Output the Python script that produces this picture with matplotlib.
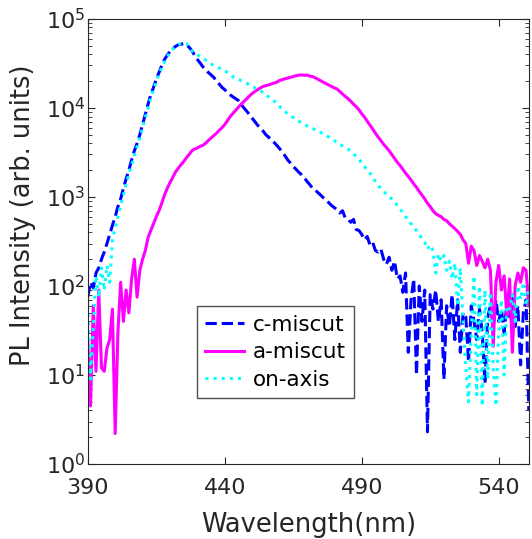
import numpy as np
import matplotlib
matplotlib.use("Agg")
import matplotlib.pyplot as plt

# wavelength grid (nm), 1 nm steps
wavelength = np.arange(390, 552)

c_miscut = [
    75, 110, 95, 140, 160, 200, 240, 300, 380, 480,
    600, 780, 950, 1250, 1600, 2000, 2600, 3300, 4000, 5000,
    6500, 8500, 11000, 14000, 17000, 21000, 25000, 30000, 35000, 39000,
    43000, 46000, 49000, 51000, 52000, 52500, 51000, 48000, 44000, 39000,
    35000, 32000, 29000, 27000, 25000, 23500, 22000, 20000, 18500, 17000,
    16000, 15000, 14000, 13300, 12700, 12100, 11000, 10000, 9200, 8400,
    7700, 7000, 6400, 5900, 5500, 5000, 4700, 4400, 4100, 3800,
    3500, 3200, 2900, 2600, 2400, 2200, 2050, 1900, 1780, 1650,
    1500, 1380, 1260, 1200, 1120, 1050, 980, 930, 860, 800,
    760, 720, 660, 700, 580, 560, 520, 560, 430, 420,
    380, 330, 360, 290, 310, 250, 240, 260, 200, 175,
    210, 150, 190, 120, 130, 85, 140, 18, 70, 120,
    10, 100, 40, 90, 2.3, 80, 55, 90, 40, 70,
    9, 60, 35, 80, 25, 70, 18, 50, 45, 14,
    60, 40, 25, 55, 30, 8, 45, 60, 35, 70,
    40, 55, 30, 65, 45, 80, 35, 60, 13, 50,
    70, 4,
]

a_miscut = [
    25, 4.5, 60, 11, 90, 12, 11, 20, 25, 55,
    2.2, 30, 110, 40, 90, 50, 120, 200, 75, 150,
    200, 250, 350, 420, 500, 600, 700, 850, 1050, 1250,
    1450, 1650, 1900, 2100, 2300, 2500, 2750, 3000, 3300, 3450,
    3550, 3700, 3800, 4000, 4300, 4600, 4900, 5200, 5600, 6000,
    6500, 7200, 8000, 8700, 9400, 10200, 11000, 11800, 12700, 13600,
    14500, 15300, 16000, 16800, 17400, 17800, 18100, 18600, 19000, 19500,
    20300, 20800, 21200, 21600, 22000, 22500, 23000, 23300, 23500, 23200,
    23400, 22800, 22500, 21800, 21000, 20200, 19400, 18700, 18000, 17400,
    16800, 16300, 15300, 14300, 13500, 12700, 11900, 11000, 10300, 9500,
    8600, 7900, 7100, 6400, 5800, 5200, 4700, 4300, 3900, 3600,
    3300, 3000, 2700, 2450, 2250, 2050, 1850, 1700, 1550, 1400,
    1280, 1150, 1050, 950, 850, 780, 700, 650, 620, 600,
    560, 540, 500, 470, 440, 410, 380, 330, 300, 180,
    280, 250, 170, 220, 190, 160, 200, 150, 21, 110,
    170, 90, 130, 45, 120, 18, 100, 140, 110, 160,
    150, 60,
]

on_axis = [
    60, 9, 35, 130, 75, 160, 90, 170, 110, 330,
    450, 600, 800, 1050, 1400, 1800, 2300, 2900, 3700, 4700,
    6000, 7800, 10000, 13000, 16000, 20000, 24000, 28500, 33000, 37500,
    42000, 45500, 48500, 51000, 53000, 53500, 53000, 48000, 44000, 41500,
    39500, 37800, 36300, 34500, 32800, 31200, 30000, 29000, 28000, 27200,
    26300, 25000, 23700, 22400, 21700, 21000, 20200, 19500, 18900, 18100,
    17400, 16800, 16200, 15600, 14800, 14000, 13400, 12800, 12000, 11200,
    10400, 9700, 9100, 8600, 8200, 7800, 7400, 7100, 6800, 6500,
    6300, 6100, 5900, 5700, 5500, 5300, 5100, 4900, 4700, 4500,
    4300, 4100, 3900, 3750, 3600, 3450, 3250, 3050, 2850, 2650,
    2400, 2200, 2000, 1850, 1650, 1500, 1350, 1250, 1150, 1080,
    1000, 950, 880, 800, 730, 670, 600, 560, 500, 450,
    420, 380, 340, 310, 260, 290, 250, 140, 230, 190,
    220, 150, 190, 120, 180, 60, 160, 40, 12, 5,
    30, 130, 6, 100, 4.5, 90, 9, 85, 12, 4.5,
    30, 70, 10, 60, 55, 80, 40, 100, 70, 110,
    60, 90,
]

plt.rcParams['font.family'] = 'DejaVu Sans'
plt.rcParams['font.size'] = 16

fig = plt.figure(figsize=(5.32, 5.39), dpi=100)
ax = fig.add_axes([0.165, 0.139, 0.829, 0.826])

ax.plot(wavelength, c_miscut, color='#0000FF', lw=2.2, ls='--', label='c-miscut')
ax.plot(wavelength, a_miscut, color='#FF00FF', lw=2.2, ls='-', label='a-miscut')
ax.plot(wavelength, on_axis, color='#00FFFF', lw=2.2, ls=':', label='on-axis')

ax.set_yscale('log')
ax.set_xlim(390, 551)
ax.set_ylim(1, 1e5)
ax.set_xticks([390, 440, 490, 540])
ax.tick_params(which='both', direction='in', top=True, right=True,
               colors='#262626', labelsize=16)
ax.tick_params(axis='x', pad=10)
ax.tick_params(axis='y', pad=2)
ax.tick_params(which='major', length=5)
ax.tick_params(which='minor', length=3)
for s in ax.spines.values():
    s.set_color('#262626')
ax.set_xlabel('Wavelength(nm)', fontsize=18.5, color='#262626', labelpad=10)
ax.set_ylabel('PL Intensity (arb. units)', fontsize=18.5, color='#262626')
ax.yaxis.set_label_coords(-0.118, 0.56)

leg = ax.legend(loc='lower left', bbox_to_anchor=(0.247, 0.148),
                borderaxespad=0, fancybox=False, fontsize=15.5,
                handlelength=1.8, handletextpad=0.4, labelspacing=0.35,
                borderpad=0.4)
leg.get_frame().set_edgecolor('#262626')
leg.get_frame().set_linewidth(1.0)

plt.savefig('out.png', dpi=100)
